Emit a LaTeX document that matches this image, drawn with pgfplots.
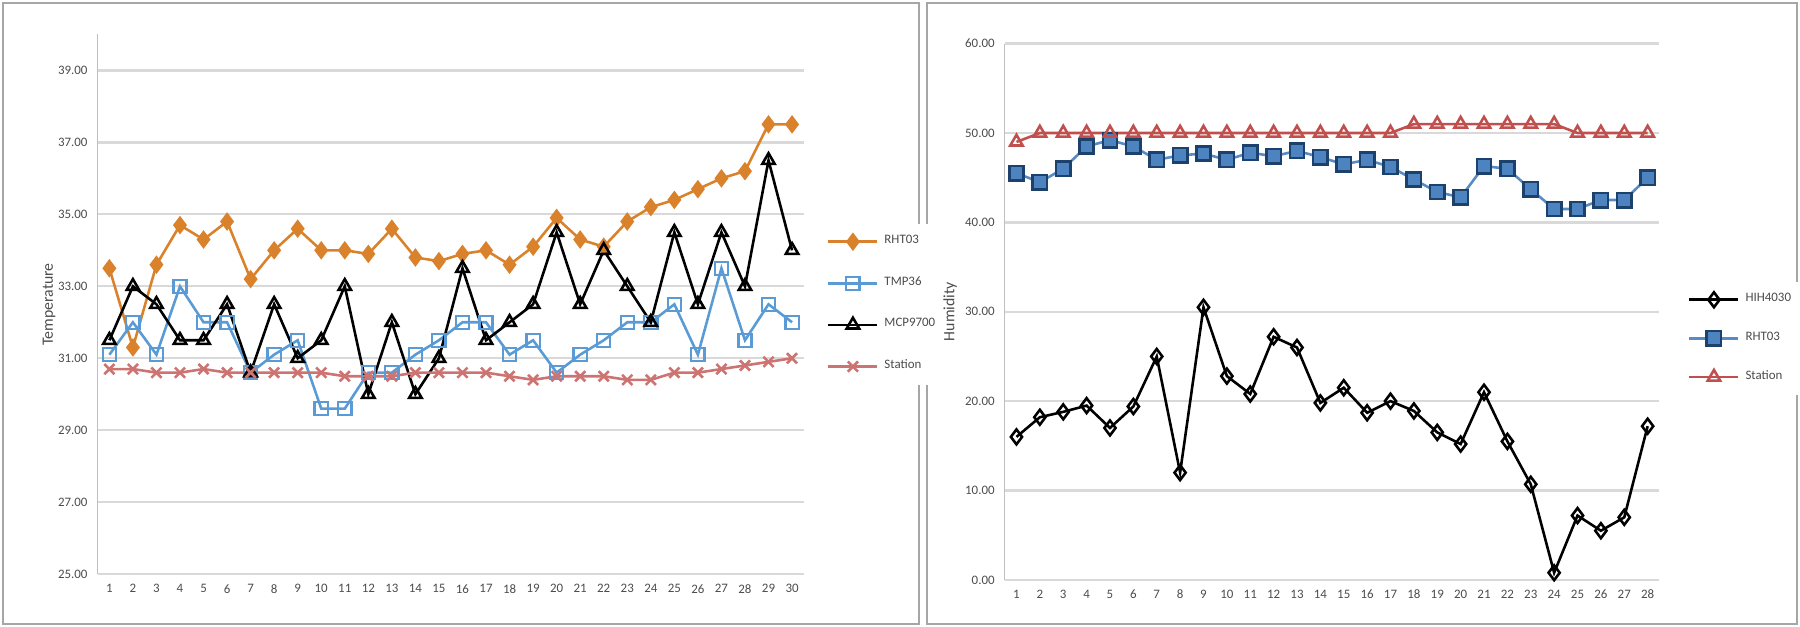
\documentclass[border=0pt]{standalone}
\usepackage{pgfplots}
\pgfplotsset{compat=1.18}
\usepackage{fontspec}
\setmainfont{Carlito}
\definecolor{oran}{HTML}{D9822B}
\definecolor{lblue}{HTML}{5B9BD5}
\definecolor{dblue}{HTML}{2E6DB4}
\definecolor{sred}{HTML}{C0504D}
\begin{document}
\begin{tikzpicture}
\path[use as bounding box] (0pt,0pt) rectangle (627pt,218.4pt);
\draw[gray!70,line width=0.8pt] (1pt,1pt) rectangle (320pt,217.4pt);
\draw[gray!70,line width=0.8pt] (323pt,1pt) rectangle (626pt,217.4pt);
\pgfplotsset{every axis/.style={scale only axis, anchor=south west,
  ymajorgrids, major grid style={gray!30,line width=0.8pt},
  axis x line*=bottom, axis y line*=left, x axis line style={draw=none}, y axis line style={gray!50},
  tick style={draw=none}, ticklabel style={font=\fontsize{4.5}{5.5}\selectfont, text=black!70},
  yticklabel style={/pgf/number format/.cd, fixed, fixed zerofill, precision=2, assume math mode=true},
  xticklabel style={/pgf/number format/assume math mode=true},
  xtick={1,...,30}, label style={font=\fontsize{5.5}{6.5}\selectfont, text=black!70},
  legend style={draw=none, font=\fontsize{4.5}{5.5}\selectfont, text=black!70, cells={anchor=west}}}}
\begin{axis}[at={(34pt,18.4pt)}, width=246pt, height=188pt, xmin=0.5, xmax=30.5, ymin=25, ymax=40,
  ytick={25,27,...,39}, ylabel={Temperature}, ylabel style={yshift=-6pt},
  legend style={at={(1.02,0.5)}, anchor=west, row sep=6pt}]
\addplot[oran, line width=0.9pt, mark=diamond*, mark size=2.5pt] coordinates {(1,33.5)(2,31.3)(3,33.6)(4,34.7)(5,34.3)(6,34.8)(7,33.2)(8,34.0)(9,34.6)(10,34.0)(11,34.0)(12,33.9)(13,34.6)(14,33.8)(15,33.7)(16,33.9)(17,34.0)(18,33.6)(19,34.1)(20,34.9)(21,34.3)(22,34.1)(23,34.8)(24,35.2)(25,35.4)(26,35.7)(27,36.0)(28,36.2)(29,37.5)(30,37.5)};
\addplot[lblue, line width=0.9pt, mark=square, mark size=2.3pt, mark options={line width=0.8pt}] coordinates {(1,31.1)(2,32.0)(3,31.1)(4,33.0)(5,32.0)(6,32.0)(7,30.6)(8,31.1)(9,31.5)(10,29.6)(11,29.6)(12,30.6)(13,30.6)(14,31.1)(15,31.5)(16,32.0)(17,32.0)(18,31.1)(19,31.5)(20,30.6)(21,31.1)(22,31.5)(23,32.0)(24,32.0)(25,32.5)(26,31.1)(27,33.5)(28,31.5)(29,32.5)(30,32.0)};
\addplot[black, line width=0.9pt, mark=triangle, mark size=2.5pt] coordinates {(1,31.5)(2,33.0)(3,32.5)(4,31.5)(5,31.5)(6,32.5)(7,30.6)(8,32.5)(9,31.0)(10,31.5)(11,33.0)(12,30.0)(13,32.0)(14,30.0)(15,31.0)(16,33.5)(17,31.5)(18,32.0)(19,32.5)(20,34.5)(21,32.5)(22,34.0)(23,33.0)(24,32.0)(25,34.5)(26,32.5)(27,34.5)(28,33.0)(29,36.5)(30,34.0)};
\addplot[sred!80, line width=0.9pt, mark=x, mark size=2.5pt] coordinates {(1,30.7)(2,30.7)(3,30.6)(4,30.6)(5,30.7)(6,30.6)(7,30.6)(8,30.6)(9,30.6)(10,30.6)(11,30.5)(12,30.5)(13,30.5)(14,30.6)(15,30.6)(16,30.6)(17,30.6)(18,30.5)(19,30.4)(20,30.5)(21,30.5)(22,30.5)(23,30.4)(24,30.4)(25,30.6)(26,30.6)(27,30.7)(28,30.8)(29,30.9)(30,31.0)};
\legend{RHT03,TMP36,MCP9700,Station}
\end{axis}
\begin{axis}[at={(350pt,16.4pt)}, width=228pt, height=186.8pt, xmin=0.5, xmax=28.5, ymin=0, ymax=60,
  ytick={0,10,...,60}, xtick={1,...,28}, ylabel={Humidity}, ylabel style={yshift=-4pt},
  legend style={at={(1.03,0.45)}, anchor=west, row sep=5pt}]
\addplot[black, line width=0.9pt, mark=diamond, mark size=2.6pt, mark options={fill=white}] coordinates {(1,16)(2,18.2)(3,18.8)(4,19.5)(5,17)(6,19.4)(7,25)(8,12)(9,30.5)(10,22.8)(11,20.8)(12,27.2)(13,26)(14,19.8)(15,21.5)(16,18.7)(17,20)(18,18.9)(19,16.5)(20,15.2)(21,21)(22,15.5)(23,10.7)(24,0.8)(25,7.2)(26,5.5)(27,7)(28,17.2)};
\addplot[dblue!80, line width=0.9pt, mark=square*, mark size=2.5pt, mark options={fill=dblue!85, draw=dblue!60!black}] coordinates {(1,45.5)(2,44.5)(3,46)(4,48.5)(5,49.2)(6,48.5)(7,47)(8,47.5)(9,47.7)(10,47)(11,47.8)(12,47.4)(13,48)(14,47.3)(15,46.5)(16,47)(17,46.2)(18,44.8)(19,43.4)(20,42.8)(21,46.3)(22,46)(23,43.7)(24,41.5)(25,41.5)(26,42.5)(27,42.5)(28,45)};
\addplot[sred, line width=0.9pt, mark=triangle, mark size=2.5pt, mark options={fill=white}] coordinates {(1,49)(2,50)(3,50)(4,50)(5,50)(6,50)(7,50)(8,50)(9,50)(10,50)(11,50)(12,50)(13,50)(14,50)(15,50)(16,50)(17,50)(18,51)(19,51)(20,51)(21,51)(22,51)(23,51)(24,51)(25,50)(26,50)(27,50)(28,50)};
\legend{HIH4030,RHT03,Station}
\end{axis}
\end{tikzpicture}
\end{document}
